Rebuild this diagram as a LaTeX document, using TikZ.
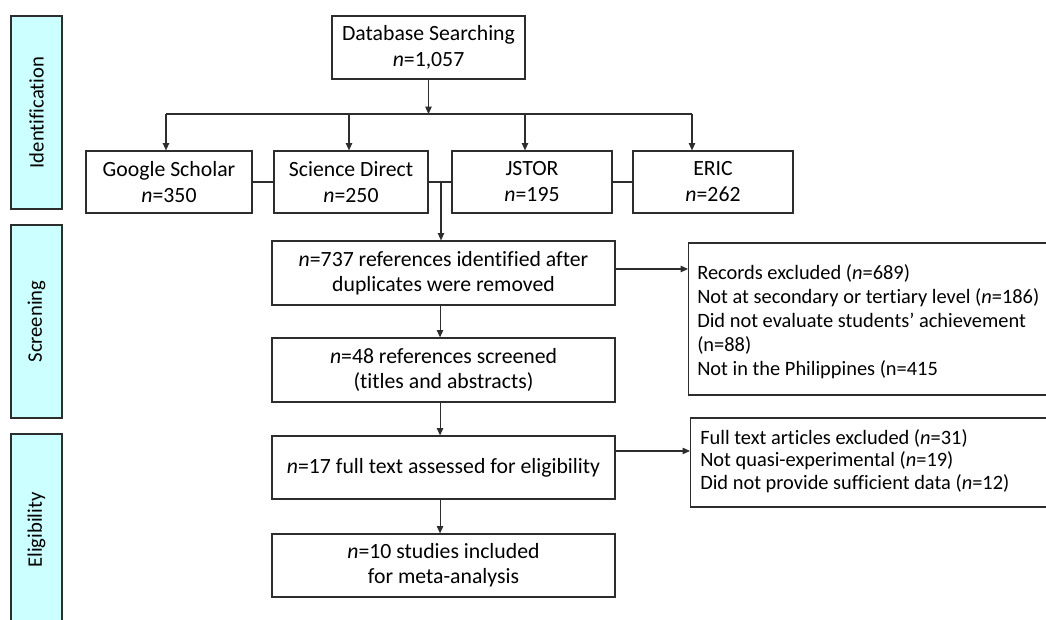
\documentclass[tikz,border=0pt]{standalone}
\usepackage{fontspec}
\setmainfont{Carlito}[Ligatures=NoCommon]
\usetikzlibrary{arrows.meta}
\definecolor{barfill}{RGB}{204,255,255}
\definecolor{edge}{RGB}{45,45,45}
\begin{document}
\begin{tikzpicture}[x=0.75pt,y=-0.75pt,
  box/.style={draw=edge, line width=0.9pt, inner sep=0pt, align=center, font=\fontsize{16.3}{19}\selectfont},
  phase/.style={draw=edge, line width=0.9pt, fill=barfill, rotate=90, inner sep=0pt, font=\fontsize{15.5}{18}\selectfont, minimum height=51*0.75pt},
  arr/.style={draw=edge, line width=0.8pt, -{Triangle[length=5.5pt,width=4.8pt]}},
  con/.style={draw=edge, line width=0.8pt},
  exbox/.style={draw=edge, line width=0.9pt, inner sep=0pt, anchor=west},
  extext/.style={inner sep=0pt, align=left, anchor=west}
]
\useasboundingbox (0,0) rectangle (1046,619);

% phase bars
\node[phase, minimum width=193*0.75pt] (idbar) at (36.5,112.5) {Identification};
\node[phase, minimum width=193*0.75pt] (scbar) at (36.5,321.5) {Screening};
\node[phase, minimum width=192*0.75pt] (elbar) at (36.5,530) {Eligibility};

% top
\node[box, minimum width=193*0.75pt, minimum height=63*0.75pt] (db) at (428.5,47.5) {Database Searching\\\textit{n}=1,057};

\node[box, font=\fontsize{16.3}{19.5}\selectfont, minimum width=166*0.75pt, minimum height=62*0.75pt] (gs) at (169,182) {Google Scholar\\\textit{n}=350};
\node[box, font=\fontsize{16.3}{19.5}\selectfont, minimum width=154*0.75pt, minimum height=62*0.75pt] (sd) at (351,182) {Science Direct\\\textit{n}=250};
\node[box, font=\fontsize{16.3}{19.5}\selectfont, minimum width=160*0.75pt, minimum height=62*0.75pt] (js) at (532,182) {JSTOR\\\textit{n}=195};
\node[box, font=\fontsize{16.3}{19.5}\selectfont, minimum width=160*0.75pt, minimum height=62*0.75pt] (er) at (713,182) {ERIC\\\textit{n}=262};

\coordinate (h1) at (166,114);
\coordinate (h2) at (349,114);
\coordinate (h3) at (525,114);
\coordinate (h4) at (692,114);

\draw[arr] (db.south) -- (db.south |- h1);
\draw[con] (h1) -- (h4);
\draw[arr] (h1) -- (h1 |- gs.north);
\draw[arr] (h2) -- (h2 |- sd.north);
\draw[arr] (h3) -- (h3 |- js.north);
\draw[arr] (h4) -- (h4 |- er.north);

\draw[con] (gs.east) -- (sd.west);
\draw[con] (sd.east) -- (js.west);
\draw[con] (js.east) -- (er.west);

% main column
\node[box, minimum width=343*0.75pt, minimum height=64*0.75pt] (n737) at (443.5,273) {\textit{n}=737 references identified after\\duplicates were removed};
\node[box, minimum width=343*0.75pt, minimum height=64*0.75pt] (n48) at (443.5,370) {\textit{n}=48 references screened\\(titles and abstracts)};
\node[box, minimum width=343*0.75pt, minimum height=63*0.75pt] (n17) at (443.5,467.5) {\textit{n}=17 full text assessed for eligibility};
\node[box, minimum width=343*0.75pt, minimum height=63*0.75pt] (n10) at (443.5,565.5) {\textit{n}=10 studies included\\for meta-analysis};

\coordinate (m) at (441,182);
\draw[arr] (m) -- (m |- n737.north);
\draw[arr] ([xshift=-2.6pt]n737.south) -- ([xshift=-2.6pt]n48.north);
\draw[arr] ([xshift=-2.6pt]n48.south) -- ([xshift=-2.6pt]n17.north);
\draw[arr] ([xshift=-2.6pt]n17.south) -- ([xshift=-2.6pt]n10.north);

% exclusion boxes (their right edges run past the picture's edge)
\node[exbox, minimum width=380*0.75pt, minimum height=152*0.75pt] (ex1) at (688,319) {};
\node[extext, font=\fontsize{15.3}{18}\selectfont] (ex1t) at (697,321.5)
 {Records excluded (\textit{n}=689)\\Not at secondary or tertiary level (\textit{n}=186)\\Did not evaluate students’ achievement\\(n=88)\\Not in the Philippines (n=415};
\node[exbox, minimum width=380*0.75pt, minimum height=89*0.75pt] (ex2) at (690,462.5) {};
\node[extext, font=\fontsize{15.3}{17}\selectfont] (ex2t) at (700,461)
 {Full text articles excluded (\textit{n}=31)\\Not quasi-experimental (\textit{n}=19)\\Did not provide sufficient data (\textit{n}=12)};

\draw[arr] ([yshift=3pt]n737.east) -- ([yshift=3pt]n737.east -| ex1.west);
\draw[arr] ([yshift=12.4pt]n17.east) -- ([yshift=12.4pt]n17.east -| ex2.west);
\end{tikzpicture}
\end{document}
